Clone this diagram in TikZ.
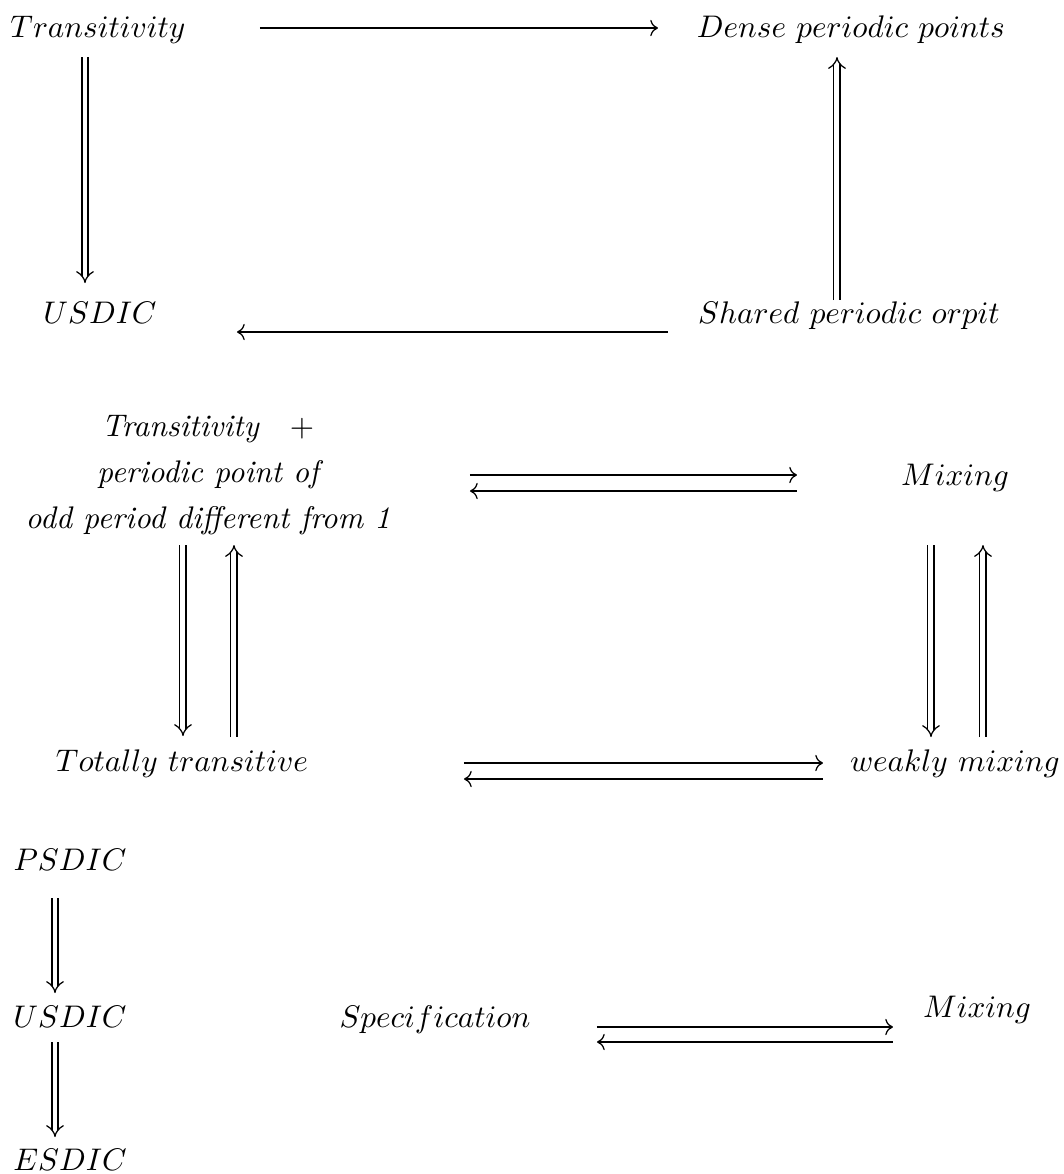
\documentclass[tikz,border=0pt]{standalone}
\usetikzlibrary{arrows.meta}
\tikzset{every picture/.style={line width=0.4pt}}
\tikzset{
  lbl/.style={inner sep=0pt, anchor=base},
  imp/.style={double, double distance=1.6pt, -{Implies}},
  sgl/.style={-{To}}
}

\begin{document}
\begin{tikzpicture}[x=0.32pt,y=0.32pt,yscale=-1,xscale=1]
\useasboundingbox (0,0) rectangle (1064,1174);

% first square
\node[lbl] (trans) at (98,37) {$Transitivity$};
\node[lbl] (dense) at (851,37) {$Dense\ periodic\ points$};
\node[lbl] (usdic) at (100,323) {$USDIC$};
\node[lbl] (shared) at (849,323) {$Shared\ periodic\ orpit$};

\coordinate (tdA) at (260,28);  \coordinate (tdB) at (658,28);
\coordinate (tuA) at (85,57);   \coordinate (tuB) at (85,283);
\coordinate (sdA) at (837,300); \coordinate (sdB) at (837,57);
\coordinate (suA) at (668,332); \coordinate (suB) at (237,332);

\draw[sgl] (tdA) -- (tdB);
\draw[imp] (tuA) -- (tuB);
\draw[imp] (sdA) -- (sdB);
\draw[sgl] (suA) -- (suB);

% second square
\node[inner sep=0pt, anchor=north, align=center, font=\itshape] (tplus) at (208,415)
  {Transitivity\quad$+$\\[2.7pt] periodic point of\\[2.7pt] odd period different from 1};
\node[lbl] (mixa) at (955,485) {$Mixing$};
\node[lbl] (total) at (182,771) {$Totally\ transitive$};
\node[lbl] (weak) at (955,771) {$weakly\ mixing$};

\coordinate (pmA) at (470,475); \coordinate (pmB) at (797,475);
\coordinate (mpA) at (797,491); \coordinate (mpB) at (470,491);
\coordinate (ptA) at (183,545); \coordinate (ptB) at (183,736);
\coordinate (tpA) at (234,737); \coordinate (tpB) at (234,545);
\coordinate (mwA) at (931,545); \coordinate (mwB) at (931,737);
\coordinate (wmA) at (983,737); \coordinate (wmB) at (983,545);
\coordinate (twA) at (464,763); \coordinate (twB) at (823,763);
\coordinate (wtA) at (823,779); \coordinate (wtB) at (464,779);

\draw[sgl] (pmA) -- (pmB);
\draw[sgl] (mpA) -- (mpB);
\draw[imp] (ptA) -- (ptB);
\draw[imp] (tpA) -- (tpB);
\draw[imp] (mwA) -- (mwB);
\draw[imp] (wmA) -- (wmB);
\draw[sgl] (twA) -- (twB);
\draw[sgl] (wtA) -- (wtB);

% third part
\node[lbl] (psdic) at (70,870) {$PSDIC$};
\node[lbl] (usdicb) at (70,1027) {$USDIC$};
\node[lbl] (esdic) at (70,1170) {$ESDIC$};
\node[lbl] (spec) at (435,1027) {$Specification$};
\node[lbl] (mixb) at (977,1017) {$Mixing$};

\coordinate (puA) at (55,898);  \coordinate (puB) at (55,993);
\coordinate (ueA) at (55,1042); \coordinate (ueB) at (55,1137);
\coordinate (smA) at (597,1027); \coordinate (smB) at (893,1027);
\coordinate (msA) at (893,1042); \coordinate (msB) at (597,1042);

\draw[imp] (puA) -- (puB);
\draw[imp] (ueA) -- (ueB);
\draw[sgl] (smA) -- (smB);
\draw[sgl] (msA) -- (msB);

\end{tikzpicture}
\end{document}
